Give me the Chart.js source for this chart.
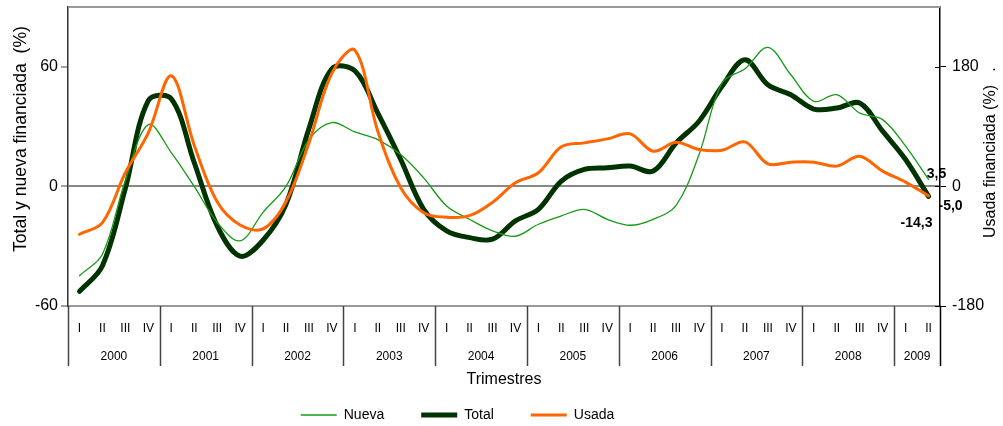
<!DOCTYPE html>
<html>
<head>
<meta charset="utf-8">
<script src="https://cdn.jsdelivr.net/npm/chart.js@4/dist/chart.umd.min.js"></script>
<style>
  html, body { margin: 0; padding: 0; background: #fff; }
  #wrap { width: 1003px; height: 426px; position: relative; }
</style>
</head>
<body>
<div id="wrap"><canvas id="chart"></canvas></div>
<script>
// --- Data (quarterly, 2000 I .. 2009 II) ---
const quarterNames = ['I', 'II', 'III', 'IV'];
const years = ['2000', '2001', '2002', '2003', '2004', '2005', '2006', '2007', '2008', '2009'];
const quartersPerYear = [4, 4, 4, 4, 4, 4, 4, 4, 4, 2];

const nueva = [-44.8, -34, 3, 31, 17, 0, -18, -27.3, -13, 0,
               23.5, 32, 27.3, 23.5, 16, 4.3, -9.8, -16.5, -22.3, -25,
               -19, -14.8, -11.5, -16.5, -19.5, -16.5, -9.5, 16, 52, 59,
               69.7, 56, 42.7, 46, 36.8, 33.5, 20.2, 3.5];
const total = [-52.7, -39.8, -1, 43, 44, 12, -19.8, -35, -27, -9,
               29, 59, 58, 36.8, 13.5, -11.5, -22.3, -25.7, -26.5, -17.3,
               -11.5, 2.7, 8.5, 9.3, 10.2, 7.7, 21.8, 32.7, 50.2, 63.5,
               51, 46, 38.8, 39.3, 41.8, 27.7, 13.5, -5.0];
const usada = [-72, -54.5, 20.5, 80.5, 166.5, 62, -23, -58, -64, -23,
               65.5, 170.5, 205, 83, -2, -39.5, -46.5, -44, -24, 5.5,
               20.5, 59.5, 65.5, 71.5, 79, 53, 66.5, 55.5, 54.5, 67,
               34, 36.5, 36.5, 30.5, 45.5, 23, 6.5, -14.3];

const leftTicks = [-60, 0, 60];
const rightTicks = [-180, 0, 180];

// --- Derived axis helpers ---
const qTicks = [];
const yearTicks = [];
const yearBounds = [0];
let q = 0;
quartersPerYear.forEach((n, yi) => {
    for (let k = 0; k < n; k++) qTicks.push({ value: q + k + 0.5, label: quarterNames[k] });
    yearTicks.push({ value: q + n / 2, label: years[yi] });
    q += n;
    yearBounds.push(q);
});
const nQ = q;
const toPoints = arr => arr.map((v, i) => ({ x: i + 0.5, y: v }));
const fmt = v => v.toFixed(1).replace('.', ',');

Chart.defaults.font.family = '"Liberation Sans", Arial, sans-serif';
Chart.defaults.color = '#000';

// --- Decorations: frame, year separators, titles, end labels ---
const endLabelOffsets = [[8, -5], [22, 10], [-12, 27]];

const framePlugin = {
    id: 'frame',
    afterLayout(chart) {
        // legend sits a little left of centre, as in the source
        const lg = chart.legend;
        lg.left -= 44; lg.right -= 44;
        lg.top = 371; lg.bottom = 426;
        lg.height = lg.bottom - lg.top;
    },
    afterDraw(chart) {
        const { ctx, chartArea: a, scales } = chart;
        ctx.save();
        // top border
        ctx.strokeStyle = '#999';
        ctx.lineWidth = 2;
        ctx.beginPath();
        ctx.moveTo(a.left, a.top);
        ctx.lineTo(a.right, a.top);
        ctx.stroke();

        // inner half of the right axis tick marks
        ctx.strokeStyle = '#000';
        ctx.lineWidth = 1;
        rightTicks.forEach(v => {
            const py = Math.round(scales.y2.getPixelForValue(v)) + 0.5;
            ctx.beginPath();
            ctx.moveTo(a.right - 5, py);
            ctx.lineTo(a.right, py);
            ctx.stroke();
        });

        // year separators below the axis
        const sepBottom = scales.x2.top + 24;
        yearBounds.forEach((b, i) => {
            const px = Math.round(scales.x.getPixelForValue(b)) + 0.5;
            ctx.strokeStyle = i === yearBounds.length - 1 ? '#000' : '#444';
            ctx.lineWidth = 1.5;
            ctx.beginPath();
            ctx.moveTo(px, a.bottom);
            ctx.lineTo(px, sepBottom);
            ctx.stroke();
        });

        // axis titles
        ctx.fillStyle = '#000';
        ctx.textBaseline = 'middle';
        ctx.textAlign = 'left';
        ctx.font = '17.6px "Liberation Sans", Arial, sans-serif';
        ctx.save();
        ctx.translate(21, 252);
        ctx.rotate(-Math.PI / 2);
        ctx.fillText('Total y nueva financiada  (%)', 0, 0);
        ctx.restore();

        ctx.font = '16px "Liberation Sans", Arial, sans-serif';
        ctx.save();
        ctx.translate(991, 238);
        ctx.rotate(-Math.PI / 2);
        ctx.fillText('Usada financiada (%)   .', 0, 0);
        ctx.restore();

        // last-value labels
        ctx.font = 'bold 14px "Liberation Sans", Arial, sans-serif';
        ctx.textAlign = 'center';
        chart.data.datasets.forEach((ds, i) => {
            const pts = chart.getDatasetMeta(i).data;
            const p = pts[pts.length - 1];
            const last = ds.data[ds.data.length - 1].y;
            ctx.fillText(fmt(last), p.x + endLabelOffsets[i][0], p.y + endLabelOffsets[i][1]);
        });
        ctx.restore();
    }
};

const noEdgePadding = s => { s.paddingTop = 0; s.paddingBottom = 0; };

const ctx = document.getElementById('chart').getContext('2d');
new Chart(ctx, {
    type: 'line',
    data: {
        datasets: [
            { label: 'Nueva', data: toPoints(nueva), borderColor: '#169a16', borderWidth: 1.3, yAxisID: 'y', order: 1 },
            { label: 'Total', data: toPoints(total), borderColor: '#003300', borderWidth: 5, yAxisID: 'y', order: 2 },
            { label: 'Usada', data: toPoints(usada), borderColor: '#ff6600', borderWidth: 3, yAxisID: 'y2', order: 0 }
        ]
    },
    options: {
        responsive: true,
        maintainAspectRatio: false,
        animation: false,
        layout: { padding: { top: 7, left: 0, right: 0, bottom: 0 } },
        elements: {
            point: { radius: 0 },
            line: { tension: 0.35, fill: false, borderCapStyle: 'round', borderJoinStyle: 'round' }
        },
        plugins: {
            tooltip: { enabled: false },
            legend: {
                position: 'bottom',
                maxHeight: 34,
                labels: {
                    usePointStyle: true,
                    pointStyle: 'line',
                    pointStyleWidth: 36,
                    boxHeight: 14,
                    padding: 37,
                    font: { size: 14 },
                    color: '#000',
                    sort: (a, b) => a.datasetIndex - b.datasetIndex
                }
            }
        },
        scales: {
            x: {
                type: 'linear', position: 'bottom', min: 0, max: nQ,
                afterBuildTicks: s => { s.ticks = qTicks.map(t => ({ value: t.value })); },
                ticks: { autoSkip: false, maxRotation: 0, padding: 15, font: { size: 12 }, color: '#000',
                         callback: (v, i) => qTicks[i].label },
                grid: { display: false, drawTicks: false },
                border: { display: true, color: '#999', width: 2 },
                afterFit: s => { s.height = 36; }
            },
            x2: {
                type: 'linear', position: 'bottom', min: 0, max: nQ,
                afterBuildTicks: s => { s.ticks = yearTicks.map(t => ({ value: t.value })); },
                ticks: { autoSkip: false, maxRotation: 0, padding: 7, font: { size: 12 }, color: '#000',
                         callback: (v, i) => yearTicks[i].label },
                grid: { display: false, drawTicks: false },
                border: { display: false },
                title: { display: true, text: 'Trimestres', font: { size: 16 }, color: '#000', padding: { top: 4, bottom: 3 } },
                afterFit: s => { s.height = 50; }
            },
            y: {
                position: 'left', min: -60, max: 90,
                afterBuildTicks: s => { s.ticks = leftTicks.map(v => ({ value: v })); },
                ticks: { font: { size: 16 }, color: '#000', padding: 3 },
                grid: {
                    color: c => (c.tick && c.tick.value === 0) ? '#888' : 'rgba(0,0,0,0)',
                    lineWidth: 2, tickColor: '#444', tickLength: 7, tickWidth: 1
                },
                border: { color: '#333', width: 1.5 },
                afterFit: s => { s.width = 68; noEdgePadding(s); }
            },
            y2: {
                position: 'right', min: -180, max: 270,
                afterBuildTicks: s => { s.ticks = rightTicks.map(v => ({ value: v })); },
                ticks: { font: { size: 16 }, color: '#000', padding: 6 },
                grid: { drawOnChartArea: false, tickColor: '#000', tickLength: 6 },
                border: { color: '#000', width: 1.5 },
                afterFit: s => { s.width = 63; noEdgePadding(s); }
            }
        }
    },
    plugins: [framePlugin]
});
</script>
</body>
</html>
